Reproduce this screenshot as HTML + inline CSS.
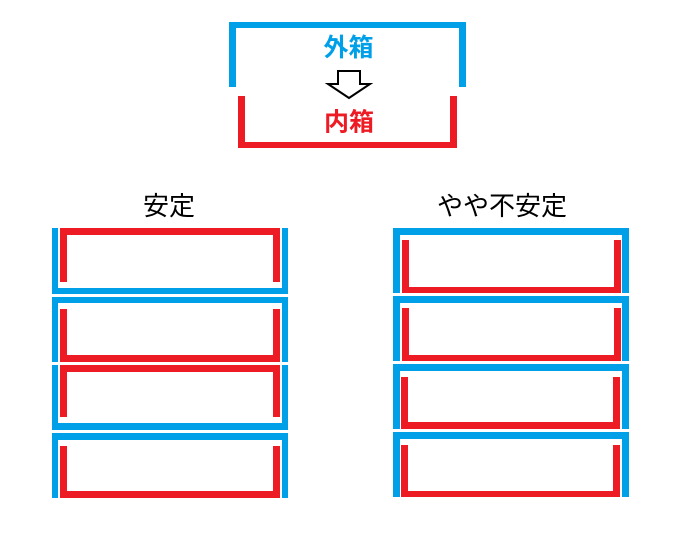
<!DOCTYPE html>
<html>
<head>
<meta charset="utf-8">
<style>
  html, body { margin: 0; padding: 0; background: #ffffff; }
  svg { display: block; }
  text { font-family: "Liberation Sans", "Noto Sans CJK JP", sans-serif; }
</style>
</head>
<body>
<svg width="680" height="553" viewBox="0 0 680 553" xmlns="http://www.w3.org/2000/svg">
  <rect x="0" y="0" width="680" height="553" fill="#ffffff"/>

  <!-- Top legend -->
  <g fill="#00a0e9">
    <rect x="229" y="22" width="237" height="6"/>
    <rect x="229" y="22" width="7" height="65"/>
    <rect x="459" y="22" width="7" height="65"/>
  </g>
  <g fill="#ed1c24">
    <rect x="238" y="96" width="7" height="52"/>
    <rect x="450" y="96" width="7" height="52"/>
    <rect x="238" y="142" width="219" height="6"/>
  </g>
  <text x="348.5" y="48" font-size="25" font-weight="bold" fill="#00a0e9" text-anchor="middle" dominant-baseline="central">外箱</text>
  <text x="349" y="122.5" font-size="25" font-weight="bold" fill="#ed1c24" text-anchor="middle" dominant-baseline="central">内箱</text>
  <polygon points="338,71 360,71 360,84 370,84 349,98 328,84 338,84" fill="#ffffff" stroke="#000000" stroke-width="2" stroke-linejoin="miter"/>

  <!-- Titles -->
  <text x="169" y="206" font-size="26" fill="#000000" text-anchor="middle" dominant-baseline="central">安定</text>
  <text x="502" y="206" font-size="26" fill="#000000" text-anchor="middle" dominant-baseline="central">やや不安定</text>

  <!-- Left stack -->
  <!-- Box 1: blue U, red ∩ -->
  <g fill="#00a0e9">
    <rect x="52" y="228" width="6" height="66"/>
    <rect x="282" y="228" width="6" height="66"/>
    <rect x="52" y="288" width="236" height="6"/>
  </g>
  <g fill="#ed1c24">
    <rect x="60" y="228" width="220" height="7"/>
    <rect x="60" y="228" width="7" height="54"/>
    <rect x="273" y="228" width="7" height="54"/>
  </g>
  <!-- Box 2: blue ∩, red U -->
  <g fill="#00a0e9">
    <rect x="52" y="297" width="236" height="6"/>
    <rect x="52" y="297" width="6" height="65"/>
    <rect x="282" y="297" width="6" height="65"/>
  </g>
  <g fill="#ed1c24">
    <rect x="60" y="309" width="7" height="53"/>
    <rect x="273" y="309" width="7" height="53"/>
    <rect x="60" y="355" width="220" height="7"/>
  </g>
  <!-- Box 3: blue U, red ∩ -->
  <g fill="#00a0e9">
    <rect x="52" y="365" width="6" height="65"/>
    <rect x="282" y="365" width="6" height="65"/>
    <rect x="52" y="423" width="236" height="7"/>
  </g>
  <g fill="#ed1c24">
    <rect x="60" y="365" width="220" height="7"/>
    <rect x="60" y="365" width="7" height="52"/>
    <rect x="273" y="365" width="7" height="52"/>
  </g>
  <!-- Box 4: blue ∩, red U -->
  <g fill="#00a0e9">
    <rect x="52" y="433" width="236" height="7"/>
    <rect x="52" y="433" width="6" height="65"/>
    <rect x="282" y="433" width="6" height="65"/>
  </g>
  <g fill="#ed1c24">
    <rect x="60" y="446" width="7" height="52"/>
    <rect x="273" y="446" width="7" height="52"/>
    <rect x="60" y="491" width="220" height="7"/>
  </g>

  <!-- Right stack: all blue ∩ with red U -->
  <g fill="#00a0e9">
    <rect x="393" y="228" width="236" height="7"/>
    <rect x="393" y="228" width="7" height="65"/>
    <rect x="622" y="228" width="7" height="65"/>

    <rect x="393" y="296" width="236" height="7"/>
    <rect x="393" y="296" width="7" height="65"/>
    <rect x="622" y="296" width="7" height="65"/>

    <rect x="393" y="364" width="236" height="7"/>
    <rect x="393" y="364" width="7" height="65"/>
    <rect x="622" y="364" width="7" height="65"/>

    <rect x="393" y="432" width="236" height="7"/>
    <rect x="393" y="432" width="7" height="65"/>
    <rect x="622" y="432" width="7" height="65"/>
  </g>
  <g fill="#ed1c24">
    <rect x="402" y="240" width="7" height="53"/>
    <rect x="614" y="240" width="7" height="53"/>
    <rect x="402" y="287" width="219" height="6"/>

    <rect x="402" y="308" width="7" height="53"/>
    <rect x="614" y="308" width="7" height="53"/>
    <rect x="402" y="355" width="219" height="6"/>

    <rect x="401" y="377" width="7" height="52"/>
    <rect x="613" y="377" width="7" height="52"/>
    <rect x="401" y="422" width="219" height="7"/>

    <rect x="401" y="445" width="7" height="52"/>
    <rect x="613" y="445" width="7" height="52"/>
    <rect x="401" y="491" width="219" height="6"/>
  </g>
</svg>
</body>
</html>
